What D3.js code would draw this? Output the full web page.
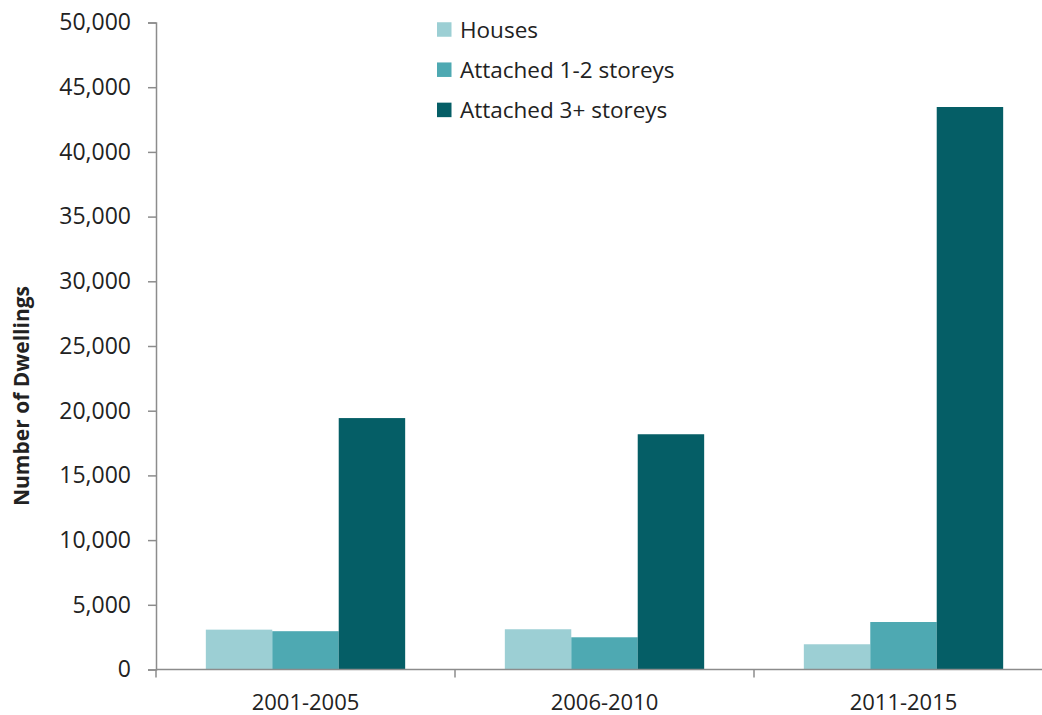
<!DOCTYPE html>
<html>
<head>
<meta charset="utf-8">
<script src="https://cdn.jsdelivr.net/npm/d3@7/dist/d3.min.js"></script>
<style>
  html, body { margin: 0; padding: 0; background: #fff; }
  svg { display: block; }
  svg text { font-family: "Open Sans", sans-serif; }
</style>
</head>
<body>
<svg id="chart" width="1042" height="715"></svg>
<script>
// Dwelling completions by period and building type
const periods = ["2001-2005", "2006-2010", "2011-2015"];
const seriesNames = ["Houses", "Attached 1-2 storeys", "Attached 3+ storeys"];
const houses = [3080, 3110, 1950];
const attached12 = [2960, 2490, 3670];
const attached3plus = [19430, 18180, 43470];
const seriesColors = ["#9ccfd4", "#4ea9b2", "#055e66"];
const yTicks = [0, 5000, 10000, 15000, 20000, 25000, 30000, 35000, 40000, 45000, 50000];

const seriesValues = [houses, attached12, attached3plus];

const svg = d3.select("#chart");
const axisColor = "#8c8c8c";
const textColor = "#222";
const fontFamily = "'Open Sans', sans-serif";

const x0 = d3.scaleBand().domain(periods).range([156, 1053]);
const x1 = d3.scaleBand().domain(seriesNames).range([0, x0.bandwidth()]).paddingOuter(0.75).paddingInner(0);
const y = d3.scaleLinear().domain([0, 50000]).range([669.5, 22.5]);

// bars
periods.forEach((p, i) => {
  svg.append("g")
    .selectAll("rect")
    .data(seriesNames.map((s, j) => ({ s, v: seriesValues[j][i], c: seriesColors[j] })))
    .join("rect")
    .attr("x", d => x0(p) + x1(d.s))
    .attr("width", x1.bandwidth())
    .attr("y", d => y(d.v))
    .attr("height", d => y(0) - y(d.v))
    .attr("fill", d => d.c);
});

// y axis
const yAxis = svg.append("g")
  .attr("transform", "translate(156,0)")
  .call(d3.axisLeft(y).tickValues(yTicks).tickFormat(d3.format(",")).tickSizeOuter(0).tickSize(8).tickPadding(17));
yAxis.attr("font-family", fontFamily).attr("font-size", 23);
yAxis.select(".domain").attr("stroke", axisColor).attr("stroke-width", 1.5);
yAxis.selectAll(".tick line").attr("stroke", axisColor).attr("stroke-width", 1.5);
yAxis.selectAll(".tick text").attr("fill", textColor);

// x axis with ticks at category boundaries
const xAxisG = svg.append("g").attr("transform", `translate(0,${y(0)})`);
xAxisG.append("line")
  .attr("x1", x0.range()[0]).attr("x2", x0.range()[1])
  .attr("stroke", axisColor).attr("stroke-width", 1.5);
const boundaries = periods.map(p => x0(p)).concat([x0.range()[1]]);
xAxisG.selectAll("line.tk")
  .data(boundaries)
  .join("line")
  .attr("class", "tk")
  .attr("x1", d => d).attr("x2", d => d)
  .attr("y1", 0).attr("y2", 8)
  .attr("stroke", axisColor).attr("stroke-width", 1.5);
xAxisG.selectAll("text")
  .data(periods)
  .join("text")
  .attr("x", d => x0(d) + x0.bandwidth() / 2)
  .attr("y", 40.5)
  .attr("text-anchor", "middle")
  .attr("font-size", 22)
  .attr("fill", textColor)
  .text(d => d);

// y axis title
svg.append("text")
  .attr("transform", "translate(28.5,396) rotate(-90)")
  .attr("text-anchor", "middle")
  .attr("font-size", 21)
  .attr("font-weight", "bold")
  .attr("fill", textColor)
  .text("Number of Dwellings");

// legend
const legend = svg.append("g").attr("transform", "translate(437,29.5)");
seriesNames.forEach((s, i) => {
  const row = legend.append("g").attr("transform", `translate(0,${i * 40.2})`);
  row.append("rect").attr("x", 0).attr("y", -7.25).attr("width", 14.5).attr("height", 14.5).attr("fill", seriesColors[i]);
  row.append("text").attr("x", 23).attr("y", 8.5).attr("font-size", 22.5).attr("fill", textColor).text(s);
});
</script>
</body>
</html>
